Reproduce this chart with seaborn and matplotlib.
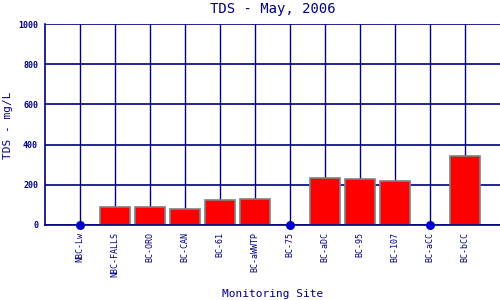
import matplotlib
matplotlib.use("Agg")
import matplotlib.pyplot as plt
import seaborn as sns
import numpy as np
import pandas as pd

sites = ["NBC-Lw", "NBC-FALLS", "BC-ORO", "BC-CAN", "BC-61", "BC-aWWTP",
         "BC-75", "BC-aDC", "BC-95", "BC-107", "BC-aCC", "BC-bCC"]
tds = [np.nan, 88, 88, 78, 123, 128, np.nan, 232, 227, 217, np.nan, 343]
yticks = [0, 200, 400, 600, 800, 1000]

navy = "#000080"
sns.set_style("white")
plt.rcParams['font.family'] = ['DejaVu Sans Mono', 'DejaVu Sans']

df = pd.DataFrame({"site": sites, "tds": tds})
fig = plt.figure(figsize=(5, 3), dpi=100)
ax = fig.add_axes([0.09, 0.25, 0.91, 0.67])

pos = np.arange(len(sites))
for x in pos:
    ax.axvline(x, color=navy, lw=1, zorder=0)
for y in yticks:
    ax.axhline(y, color=navy, lw=1.2, zorder=0)

sns.barplot(data=df, x="site", y="tds", color="red", width=0.86,
            edgecolor="gray", linewidth=1.2, saturation=1, ax=ax, zorder=2)
missing = df[df["tds"].isna()]
ax.scatter([sites.index(s) for s in missing["site"]], [0] * len(missing),
           color="#0000cc", s=30, zorder=5, clip_on=False)

ax.set_xlim(-1, 12)
ax.set_ylim(0, 1000)
ax.set_yticks(yticks)
ax.set_yticklabels([str(v) for v in yticks], fontsize=6, color=navy, fontweight="bold")
ax.set_xticks(pos)
ax.set_xticklabels(sites, rotation=90, fontsize=6, color=navy)
ax.tick_params(length=0, pad=5)
for s in ["top", "right"]:
    ax.spines[s].set_visible(False)
for s in ["left", "bottom"]:
    ax.spines[s].set_color(navy)
    ax.spines[s].set_linewidth(1.2)
ax.set_xlabel("")
ax.set_ylabel("")
fig.text(0.545, 1 - 294 / 300, "Monitoring Site", fontsize=8, color=navy,
         ha="center", va="center")
fig.text(8 / 500, 1 - 125 / 300, "TDS - mg/L", fontsize=8, color=navy,
         ha="center", va="center", rotation=90)
ax.set_title("TDS - May, 2006", fontsize=10, color=navy, pad=8)
ax.grid(False)

fig.savefig("out.png", dpi=100)
